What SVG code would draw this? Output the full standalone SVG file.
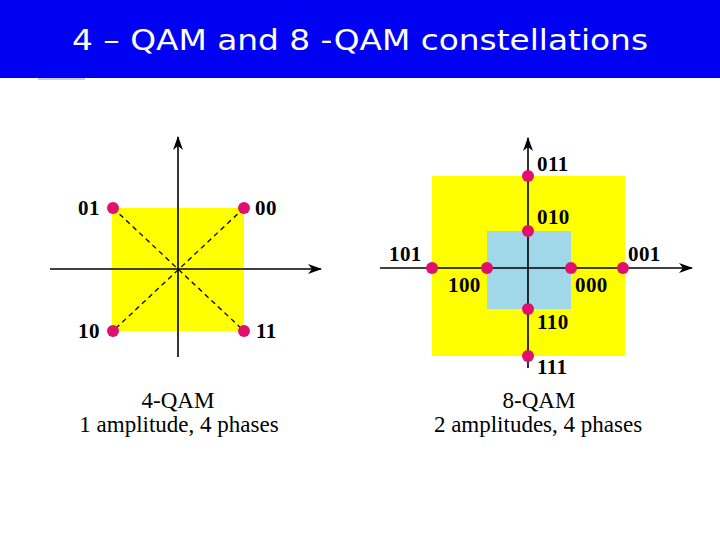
<svg xmlns="http://www.w3.org/2000/svg" width="720" height="540" viewBox="0 0 720 540">
<style>
.ax{stroke:#000;stroke-width:1.6;fill:none}
.dash{stroke:#000;stroke-width:1.3;stroke-dasharray:5,4;fill:none}
.pt{fill:#e0106e}
.lb{font-family:"Liberation Serif",serif;font-weight:bold;font-size:21px;letter-spacing:0.4px;fill:#000}
.cap{font-family:"Liberation Serif",serif;font-size:23px;fill:#000;text-anchor:middle}
</style>
<defs>
<marker id="arr" viewBox="0 0 14 10" refX="13" refY="5" markerWidth="14" markerHeight="10" markerUnits="userSpaceOnUse" orient="auto">
<path d="M0,0 L14,5 L0,10 L4,5 Z" fill="#000"/>
</marker>
</defs>
<rect width="720" height="540" fill="#fff"/>
<rect x="0" y="0" width="720" height="78" fill="#0000f2"/>
<line x1="38" y1="79" x2="85" y2="79" stroke="#b4bde0" stroke-width="1.5"/>
<text x="360" y="50" text-anchor="middle" font-family="'DejaVu Sans',sans-serif" font-size="29" fill="#fff" textLength="576" lengthAdjust="spacingAndGlyphs">4 – QAM and 8 -QAM constellations</text>

<g id="qam4">
<rect x="112" y="208" width="132" height="123" fill="#ffff00"/>
<g id="qam4-connectors">
<line class="ax" x1="50" y1="269" x2="321" y2="269" marker-end="url(#arr)"/>
<line class="ax" x1="178" y1="357" x2="178" y2="137" marker-end="url(#arr)"/>
<line class="dash" x1="113" y1="208" x2="244" y2="331"/>
<line class="dash" x1="244" y1="208" x2="113" y2="331"/>
</g>
<g id="p01"><circle class="pt" cx="113" cy="208" r="6"/><text class="lb" x="78" y="215">01</text></g>
<g id="p00"><circle class="pt" cx="244" cy="208" r="6"/><text class="lb" x="255" y="215">00</text></g>
<g id="p10"><circle class="pt" cx="113" cy="331" r="6"/><text class="lb" x="78" y="338">10</text></g>
<g id="p11"><circle class="pt" cx="244" cy="331" r="6"/><text class="lb" x="256" y="338">11</text></g>
<text class="cap" x="178" y="408">4-QAM</text>
<text class="cap" x="179" y="432">1 amplitude, 4 phases</text>
</g>

<g id="qam8">
<rect x="432" y="176" width="193" height="180" fill="#ffff00"/>
<rect x="487" y="231" width="84" height="78" fill="#a0d8ea"/>
<g id="qam8-connectors">
<line class="ax" x1="380" y1="268" x2="692" y2="268" marker-end="url(#arr)"/>
<line class="ax" x1="528" y1="368" x2="528" y2="138" marker-end="url(#arr)"/>
</g>
<g id="p011"><circle class="pt" cx="528" cy="176" r="6"/><text class="lb" x="537" y="171">011</text></g>
<g id="p010"><circle class="pt" cx="528" cy="231" r="6"/><text class="lb" x="537" y="224">010</text></g>
<g id="p110"><circle class="pt" cx="528" cy="309" r="6"/><text class="lb" x="537" y="329">110</text></g>
<g id="p111"><circle class="pt" cx="528" cy="356" r="6"/><text class="lb" x="537" y="374">111</text></g>
<g id="p101"><circle class="pt" cx="432" cy="268" r="6"/><text class="lb" x="389" y="261">101</text></g>
<g id="p100"><circle class="pt" cx="487" cy="268" r="6"/><text class="lb" x="448" y="292">100</text></g>
<g id="p000"><circle class="pt" cx="571" cy="268" r="6"/><text class="lb" x="575" y="292">000</text></g>
<g id="p001"><circle class="pt" cx="623" cy="268" r="6"/><text class="lb" x="628" y="261">001</text></g>
<text class="cap" x="539" y="408">8-QAM</text>
<text class="cap" x="538" y="432">2 amplitudes, 4 phases</text>
</g>
</svg>
